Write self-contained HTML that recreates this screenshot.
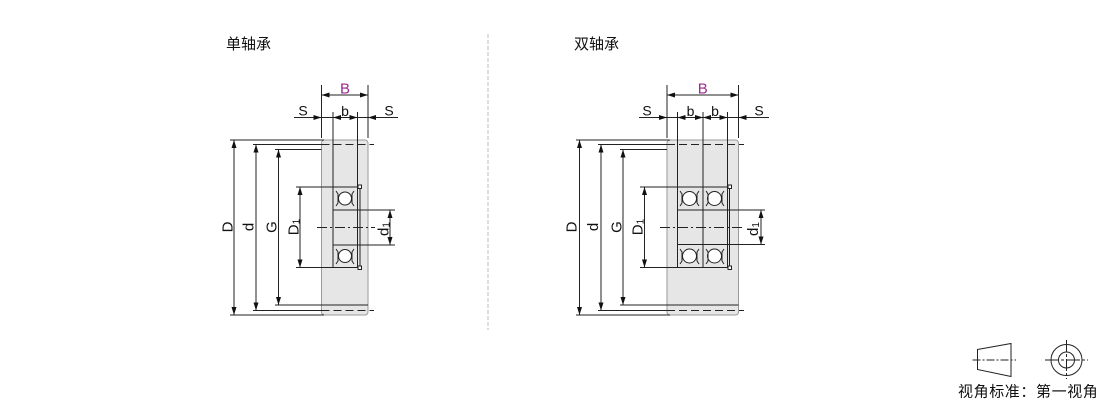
<!DOCTYPE html>
<html><head><meta charset="utf-8"><style>
html,body{margin:0;padding:0;background:#fff;}
svg{display:block;}
text{font-family:"Liberation Sans","Noto Sans CJK SC",sans-serif;}
</style></head><body>
<svg width="1110" height="401" viewBox="0 0 1110 401" xmlns="http://www.w3.org/2000/svg">
<!-- titles -->
<text x="226" y="49" font-size="15" fill="#111">单轴承</text>
<text x="574" y="49" font-size="15" fill="#111">双轴承</text>
<!-- divider -->
<line x1="488" y1="34" x2="488" y2="330" stroke="#bdbdbd" stroke-width="1" stroke-dasharray="4 2"/>

<!-- ============ SINGLE ============ -->
<g stroke-width="1" fill="none">
<rect x="321.5" y="140" width="46.5" height="175" rx="3" fill="#e6e6e6" stroke="#999"/>
<g stroke="#222">
<!-- B -->
<line x1="321.5" y1="85" x2="321.5" y2="138"/>
<line x1="368" y1="85" x2="368" y2="138"/>
<line x1="321.5" y1="95" x2="368" y2="95"/>
<!-- S/b line -->
<line x1="294" y1="117.5" x2="398" y2="117.5"/>
<line x1="333" y1="112" x2="333" y2="268"/>
<line x1="357.5" y1="112" x2="357.5" y2="268"/>
<!-- horizontals -->
<line x1="230" y1="140" x2="324" y2="140"/>
<line x1="253" y1="144.5" x2="321.5" y2="144.5"/>
<line x1="321.5" y1="144.5" x2="374" y2="144.5" stroke-dasharray="8 4"/>
<line x1="275" y1="149.5" x2="321.5" y2="149.5"/>
<line x1="275" y1="305" x2="368" y2="305"/>
<line x1="253" y1="310.5" x2="321.5" y2="310.5"/>
<line x1="321.5" y1="310.5" x2="374" y2="310.5" stroke-dasharray="8 4"/>
<line x1="230" y1="315" x2="324" y2="315"/>
<!-- verticals -->
<line x1="234" y1="140" x2="234" y2="315"/>
<line x1="256" y1="144.5" x2="256" y2="310.5"/>
<line x1="278.5" y1="149.5" x2="278.5" y2="305"/>
<line x1="300" y1="187" x2="300" y2="267.5"/>
<line x1="390" y1="210" x2="390" y2="245"/>
<!-- bearing -->
<line x1="296" y1="187" x2="360" y2="187"/>
<line x1="296" y1="267.5" x2="360" y2="267.5"/>
<line x1="360" y1="187" x2="360" y2="267.5"/>
<line x1="333" y1="210" x2="395" y2="210"/>
<line x1="333" y1="245" x2="395" y2="245"/>
<rect x="358" y="185" width="3.5" height="3.5" fill="#fff"/>
<rect x="358" y="266" width="3.5" height="3.5" fill="#fff"/>
<circle cx="345" cy="198.5" r="6.5" fill="#fff"/>
<circle cx="345" cy="256" r="6.5" fill="#fff"/>
<path d="M336 191 l2 3 v9 l-2 3 M354 191 l-2 3 v9 l2 3 M336 249 l2 3 v9 l-2 3 M354 249 l-2 3 v9 l2 3"/>
<line x1="317" y1="227.5" x2="375" y2="227.5" stroke-dasharray="10 3 2 3"/>
</g>
<g fill="#111" stroke="none">
<polygon points="321.5,95 329.5,92.5 329.5,97.5"/>
<polygon points="368,95 360,92.5 360,97.5"/>
<polygon points="321.5,117.5 313.5,115 313.5,120"/>
<polygon points="368,117.5 376,115 376,120"/>
<polygon points="333,117.5 341,115 341,120"/>
<polygon points="357.5,117.5 349.5,115 349.5,120"/>
<polygon points="234,140 231.5,148 236.5,148"/>
<polygon points="234,315 231.5,307 236.5,307"/>
<polygon points="256,144.5 253.5,152.5 258.5,152.5"/>
<polygon points="256,310.5 253.5,302.5 258.5,302.5"/>
<polygon points="278.5,149.5 276,157.5 281,157.5"/>
<polygon points="278.5,305 276,297 281,297"/>
<polygon points="300,187 297.5,195 302.5,195"/>
<polygon points="300,267.5 297.5,259.5 302.5,259.5"/>
<polygon points="390,210 387.5,218 392.5,218"/>
<polygon points="390,245 387.5,237 392.5,237"/>
</g>
</g>
<text x="345" y="93.5" font-size="15" fill="#9b2a8f" text-anchor="middle">B</text>
<text x="303" y="115.5" font-size="14" fill="#111" text-anchor="middle">S</text>
<text x="389" y="115.5" font-size="14" fill="#111" text-anchor="middle">S</text>
<text x="345" y="116" font-size="14" fill="#111" text-anchor="middle">b</text>
<g font-size="15" fill="#111" text-anchor="middle">
<text transform="translate(232.7,227) rotate(-90)">D</text>
<text transform="translate(253.3,227) rotate(-90)">d</text>
<text transform="translate(276.7,227) rotate(-90)">G</text>
<text transform="translate(298.3,227) rotate(-90)">D<tspan font-size="10" dy="1">1</tspan></text>
<text transform="translate(388.3,229) rotate(-90)">d<tspan font-size="10" dy="1">1</tspan></text>
</g>

<!-- ============ DOUBLE ============ -->
<g stroke-width="1" fill="none">
<rect x="667" y="140" width="71.5" height="175" rx="3" fill="#e6e6e6" stroke="#999"/>
<g stroke="#222">
<line x1="667" y1="85" x2="667" y2="138"/>
<line x1="738.5" y1="85" x2="738.5" y2="138"/>
<line x1="667" y1="95" x2="738.5" y2="95"/>
<line x1="639" y1="117.5" x2="769" y2="117.5"/>
<line x1="677.5" y1="112" x2="677.5" y2="268"/>
<line x1="703" y1="112" x2="703" y2="268"/>
<line x1="727.5" y1="112" x2="727.5" y2="268"/>
<line x1="576" y1="140" x2="670" y2="140"/>
<line x1="598" y1="144.5" x2="667" y2="144.5"/>
<line x1="667" y1="144.5" x2="744" y2="144.5" stroke-dasharray="8 4"/>
<line x1="620" y1="149.5" x2="667" y2="149.5"/>
<line x1="620" y1="305" x2="738.5" y2="305"/>
<line x1="598" y1="310.5" x2="667" y2="310.5"/>
<line x1="667" y1="310.5" x2="744" y2="310.5" stroke-dasharray="8 4"/>
<line x1="576" y1="315" x2="670" y2="315"/>
<line x1="579.5" y1="140" x2="579.5" y2="315"/>
<line x1="601" y1="144.5" x2="601" y2="310.5"/>
<line x1="623" y1="149.5" x2="623" y2="305"/>
<line x1="644.5" y1="187" x2="644.5" y2="267.5"/>
<line x1="761" y1="210" x2="761" y2="244.5"/>
<line x1="640" y1="187" x2="729.5" y2="187"/>
<line x1="640" y1="267.5" x2="729.5" y2="267.5"/>
<line x1="729.5" y1="187" x2="729.5" y2="267.5"/>
<line x1="677" y1="210" x2="765" y2="210"/>
<line x1="677" y1="244.5" x2="765" y2="244.5"/>
<rect x="728" y="185" width="3.5" height="3.5" fill="#fff"/>
<rect x="728" y="266" width="3.5" height="3.5" fill="#fff"/>
<circle cx="689.5" cy="198.5" r="7" fill="#fff"/>
<circle cx="714.5" cy="198.5" r="7" fill="#fff"/>
<circle cx="689.5" cy="256" r="7" fill="#fff"/>
<circle cx="714.5" cy="256" r="7" fill="#fff"/>
<path d="M680 191 l2 3 v9 l-2 3 M699 191 l-2 3 v9 l2 3 M706 191 l2 3 v9 l-2 3 M724 191 l-2 3 v9 l2 3 M680 249 l2 3 v9 l-2 3 M699 249 l-2 3 v9 l2 3 M706 249 l2 3 v9 l-2 3 M724 249 l-2 3 v9 l2 3"/>
<line x1="660" y1="227.5" x2="745" y2="227.5" stroke-dasharray="10 3 2 3"/>
</g>
<g fill="#111" stroke="none">
<polygon points="667,95 675,92.5 675,97.5"/>
<polygon points="738.5,95 730.5,92.5 730.5,97.5"/>
<polygon points="667,117.5 659,115 659,120"/>
<polygon points="738.5,117.5 746.5,115 746.5,120"/>
<polygon points="677.5,117.5 685.5,115 685.5,120"/>
<polygon points="703,117.5 695,115 695,120"/>
<polygon points="703,117.5 711,115 711,120"/>
<polygon points="727.5,117.5 719.5,115 719.5,120"/>
<polygon points="579.5,140 577,148 582,148"/>
<polygon points="579.5,315 577,307 582,307"/>
<polygon points="601,144.5 598.5,152.5 603.5,152.5"/>
<polygon points="601,310.5 598.5,302.5 603.5,302.5"/>
<polygon points="623,149.5 620.5,157.5 625.5,157.5"/>
<polygon points="623,305 620.5,297 625.5,297"/>
<polygon points="644.5,187 642,195 647,195"/>
<polygon points="644.5,267.5 642,259.5 647,259.5"/>
<polygon points="761,210 758.5,218 763.5,218"/>
<polygon points="761,244.5 758.5,236.5 763.5,236.5"/>
</g>
</g>
<text x="702.7" y="93.5" font-size="15" fill="#9b2a8f" text-anchor="middle">B</text>
<text x="647" y="115.5" font-size="14" fill="#111" text-anchor="middle">S</text>
<text x="759" y="115.5" font-size="14" fill="#111" text-anchor="middle">S</text>
<text x="690.5" y="116" font-size="14" fill="#111" text-anchor="middle">b</text>
<text x="715" y="116" font-size="14" fill="#111" text-anchor="middle">b</text>
<g font-size="15" fill="#111" text-anchor="middle">
<text transform="translate(576.7,227) rotate(-90)">D</text>
<text transform="translate(598,227) rotate(-90)">d</text>
<text transform="translate(621.7,227) rotate(-90)">G</text>
<text transform="translate(642.7,227) rotate(-90)">D<tspan font-size="10" dy="1">1</tspan></text>
<text transform="translate(758,229) rotate(-90)">d<tspan font-size="10" dy="1">1</tspan></text>
</g>

<!-- ============ projection symbol ============ -->
<g stroke="#222" stroke-width="1" fill="none">
<polygon points="977.5,349.5 1011,343.5 1011,376.5 977.5,369.5"/>
<line x1="972.5" y1="360" x2="1016" y2="360" stroke-dasharray="8 2 2 2"/>
<circle cx="1066.5" cy="360" r="15.5"/>
<circle cx="1066.5" cy="360" r="8"/>
<line x1="1045" y1="360" x2="1088" y2="360" stroke-dasharray="14 2 3 2"/>
<line x1="1066.5" y1="340" x2="1066.5" y2="379" stroke-dasharray="12 2 3 2"/>
</g>
<text x="958" y="396.5" font-size="15" letter-spacing="0.6" fill="#111">视角标准：第一视角</text>
</svg>
</body></html>
